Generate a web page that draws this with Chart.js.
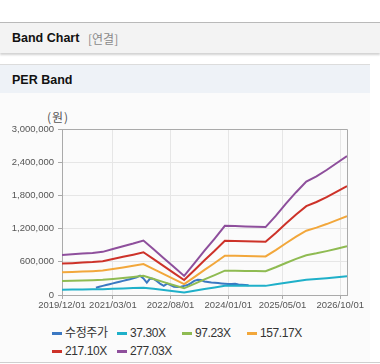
<!DOCTYPE html>
<html>
<head>
<meta charset="utf-8">
<script src="https://cdn.jsdelivr.net/npm/chart.js@4"></script>
<style>
  body { margin: 0; width: 380px; height: 364px; background: #fff; position: relative; overflow: hidden;
         font-family: "Liberation Sans", Arial, "Noto Sans CJK KR", sans-serif; }
  .topline { position: absolute; left: 0; top: 22px; width: 380px; height: 1px; background: #b9b9b9; }
  .hdr { position: absolute; left: 0; top: 23px; width: 380px; height: 30px; background: #f3f3f3;
         box-shadow: 0 2px 2px rgba(0,0,0,0.18); }
  .hdr b { position: absolute; left: 12px; top: 8px; font-size: 12.5px; color: #111; }
  .hdr span { position: absolute; left: 88px; top: 8px; font-size: 12px; color: #8a8a8a;
              font-family: "Noto Sans CJK KR", sans-serif; line-height: 15px; }
  .panel { position: absolute; left: 0; top: 64px; width: 370px; height: 298px; background: #fbfbfb;
           border-top: 1px solid #dcdcdc; }
  .ptitle { position: absolute; left: 0; top: 0; width: 370px; height: 28px; background: #eef2f7; }
  .ptitle b { position: absolute; left: 12px; top: 8px; font-size: 12.5px; color: #111; }
  .unit { position: absolute; left: 47px; top: 109px; font-size: 12px; color: #555; letter-spacing: 1px;
          font-family: "Noto Sans CJK KR", sans-serif; line-height: 15px; }
  .wrap { position: absolute; left: 0; top: 93px; width: 370px; height: 225px; }
  #legend { position: absolute; left: 52px; top: 323px; width: 270px; }
  #legend .item { display: inline-block; width: 65px; height: 14px; line-height: 14px; white-space: nowrap;
                  font-size: 12px; color: #333; letter-spacing: -0.4px; }
  #legend .sw { display: inline-block; width: 10px; height: 3px; vertical-align: middle; margin-right: 3px; }
  .botline { position: absolute; left: 0; top: 362px; width: 380px; height: 1px; background: #cfcfcf; }
</style>
</head>
<body>
<div class="topline"></div>
<div class="hdr"><b>Band Chart</b><span>[연결]</span></div>
<div class="panel"><div class="ptitle"><b>PER Band</b></div></div>
<div class="unit">(원)</div>
<div class="wrap"><canvas id="perBand"></canvas></div>
<div id="legend"></div>
<div class="botline"></div>
<script>
var tickLabels = ["2019/12/01", "2021/03/01", "2022/08/01", "2024/01/01", "2025/05/01", "2026/10/01"];

var bandDates = ["2019/12", "2020/03", "2020/06", "2020/09", "2020/12", "2021/03", "2021/06", "2021/09",
  "2021/12", "2022/03", "2022/06", "2022/09", "2022/12", "2023/03", "2023/06", "2023/09", "2023/12",
  "2024/03", "2024/06", "2024/09", "2024/12", "2025/03", "2025/06", "2025/09", "2025/12", "2026/03",
  "2026/06", "2026/09", "2026/12"];

var band37 = [97000, 99000, 101000, 102000, 105000, 112000, 118000, 125000, 133000, 111000, 90000, 68000,
  46000, 77000, 108000, 137000, 168000, 168000, 167000, 166000, 165000, 193000, 222000, 250000, 276000,
  289000, 304000, 321000, 338000];
var band97 = [254000, 258000, 263000, 267000, 274000, 291000, 309000, 326000, 346000, 290000, 233000, 177000,
  121000, 200000, 281000, 358000, 439000, 438000, 435000, 432000, 431000, 502000, 579000, 652000, 719000,
  753000, 793000, 837000, 882000];
var band157 = [410000, 417000, 424000, 431000, 442000, 471000, 499000, 528000, 559000, 468000, 377000, 286000,
  196000, 323000, 454000, 579000, 709000, 708000, 703000, 699000, 697000, 811000, 935000, 1054000, 1162000,
  1217000, 1282000, 1353000, 1425000];
var band217 = [567000, 576000, 586000, 596000, 611000, 650000, 690000, 729000, 772000, 647000, 521000, 396000,
  270000, 447000, 627000, 799000, 980000, 978000, 972000, 966000, 962000, 1121000, 1293000, 1456000, 1605000,
  1681000, 1770000, 1869000, 1969000];
var band277 = [723000, 735000, 748000, 760000, 780000, 830000, 880000, 930000, 985000, 825000, 665000, 505000,
  345000, 570000, 800000, 1020000, 1250000, 1248000, 1240000, 1232000, 1228000, 1430000, 1650000, 1858000,
  2048000, 2145000, 2259000, 2385000, 2512000];

var priceDates = ["2020/10", "2020/11", "2020/12", "2021/01", "2021/02", "2021/03", "2021/04", "2021/05",
  "2021/06", "2021/07", "2021/08", "2021/09", "2021/10", "2021/11", "2021/12", "2022/01", "2022/02",
  "2022/03", "2022/04", "2022/05", "2022/06", "2022/07", "2022/08", "2022/09", "2022/10", "2022/11",
  "2022/12", "2023/01", "2023/02", "2023/03", "2023/04", "2023/05", "2023/06", "2023/07", "2023/08",
  "2023/09", "2023/10", "2023/11", "2023/12", "2024/01", "2024/02", "2024/03", "2024/04", "2024/05",
  "2024/06", "2024/07"];
var price = [132000, 150000, 165000, 180000, 195000, 210000, 225000, 240000, 255000, 270000, 285000, 300000,
  320000, 350000, 300000, 225000, 300000, 290000, 250000, 200000, 165000, 205000, 180000, 150000, 145000,
  150000, 165000, 180000, 215000, 255000, 275000, 270000, 245000, 235000, 225000, 220000, 215000, 210000,
  205000, 200000, 200000, 205000, 190000, 185000, 180000, 175000];

var seriesNames = ["수정주가", "37.30X", "97.23X", "157.17X", "217.10X", "277.03X"];
var seriesColors = ["#3b78c2", "#1fb0c9", "#8fbb52", "#f2a73b", "#cd3229", "#8e4f9c"];

// months counted from 2019/12 so the x axis can be linear
function monthIndex(s) {
  var p = s.split("/");
  return (parseInt(p[0], 10) - 2019) * 12 + parseInt(p[1], 10) - 12;
}

function toPoints(dates, values) {
  var pts = [];
  for (var i = 0; i < dates.length; i++) {
    pts.push({ x: monthIndex(dates[i]), y: values[i] });
  }
  return pts;
}

// use a narrow face only if it really is narrower, else shrink the regular one
function pickAxisFont() {
  var c = document.createElement("canvas").getContext("2d");
  c.font = "11px 'Liberation Sans'";
  var base = c.measureText("2019/12/01").width;
  var names = ["Liberation Sans Narrow", "DejaVu Sans Condensed", "Arial Narrow"];
  for (var i = 0; i < names.length; i++) {
    c.font = "11px '" + names[i] + "', 'Liberation Sans'";
    if (c.measureText("2019/12/01").width < base * 0.9) {
      return { family: "'" + names[i] + "'", size: 11 };
    }
  }
  return { family: "'Liberation Sans', Arial", size: 9.5 };
}

var tickMonths = tickLabels.map(monthIndex);
var seriesData = [
  toPoints(priceDates, price),
  toPoints(bandDates, band37),
  toPoints(bandDates, band97),
  toPoints(bandDates, band157),
  toPoints(bandDates, band217),
  toPoints(bandDates, band277)
];

var datasets = [];
for (var i = 0; i < seriesNames.length; i++) {
  datasets.push({
    label: seriesNames[i],
    data: seriesData[i],
    borderColor: seriesColors[i],
    backgroundColor: seriesColors[i],
    borderWidth: 2,
    pointRadius: 0,
    tension: 0,
    order: seriesNames.length - i
  });
}

var frame = {
  id: "frame",
  afterDatasetsDraw: function (chart) {
    var a = chart.chartArea, c = chart.ctx;
    c.save();
    c.strokeStyle = "#aaaaaa";
    c.lineWidth = 1;
    c.beginPath();
    c.moveTo(Math.round(a.left) + 0.5, Math.round(a.top) + 0.5);
    c.lineTo(Math.round(a.right) + 0.5, Math.round(a.top) + 0.5);
    c.lineTo(Math.round(a.right) + 0.5, Math.round(a.bottom) + 0.5);
    c.stroke();
    c.restore();
  }
};

var axisFont = pickAxisFont();

new Chart(document.getElementById("perBand"), {
  type: "line",
  data: { datasets: datasets },
  options: {
    responsive: true,
    maintainAspectRatio: false,
    animation: false,
    layout: { padding: { top: 36, right: 23, bottom: 0, left: 0 } },
    plugins: { legend: { display: false }, tooltip: { enabled: false } },
    scales: {
      x: {
        type: "linear",
        min: 0,
        max: monthIndex("2026/12"),
        afterBuildTicks: function (scale) {
          scale.ticks = tickMonths.map(function (v) { return { value: v }; });
        },
        afterFit: function (scale) { scale.height = 23; },
        ticks: {
          autoSkip: false,
          maxRotation: 0,
          padding: 1,
          color: "#555",
          font: axisFont,
          callback: function (v) {
            var k = tickMonths.indexOf(v);
            return k >= 0 ? tickLabels[k] : "";
          }
        },
        grid: { color: "#e6e6e6", tickColor: "#aaaaaa", tickLength: 4 },
        border: { color: "#aaaaaa" }
      },
      y: {
        min: 0,
        max: 3000000,
        afterFit: function (scale) { scale.width = 62; },
        ticks: {
          stepSize: 600000,
          padding: 4,
          color: "#555",
          font: axisFont,
          callback: function (v) { return v.toLocaleString("en-US"); }
        },
        grid: { color: "#e6e6e6", tickColor: "#aaaaaa", tickLength: 4 },
        border: { color: "#aaaaaa" }
      }
    }
  },
  plugins: [frame]
});

var legend = document.getElementById("legend");
for (var j = 0; j < seriesNames.length; j++) {
  var item = document.createElement("span");
  item.className = "item";
  item.innerHTML = '<span class="sw" style="background:' + seriesColors[j] + '"></span>' + seriesNames[j];
  legend.appendChild(item);
}
</script>
</body>
</html>
